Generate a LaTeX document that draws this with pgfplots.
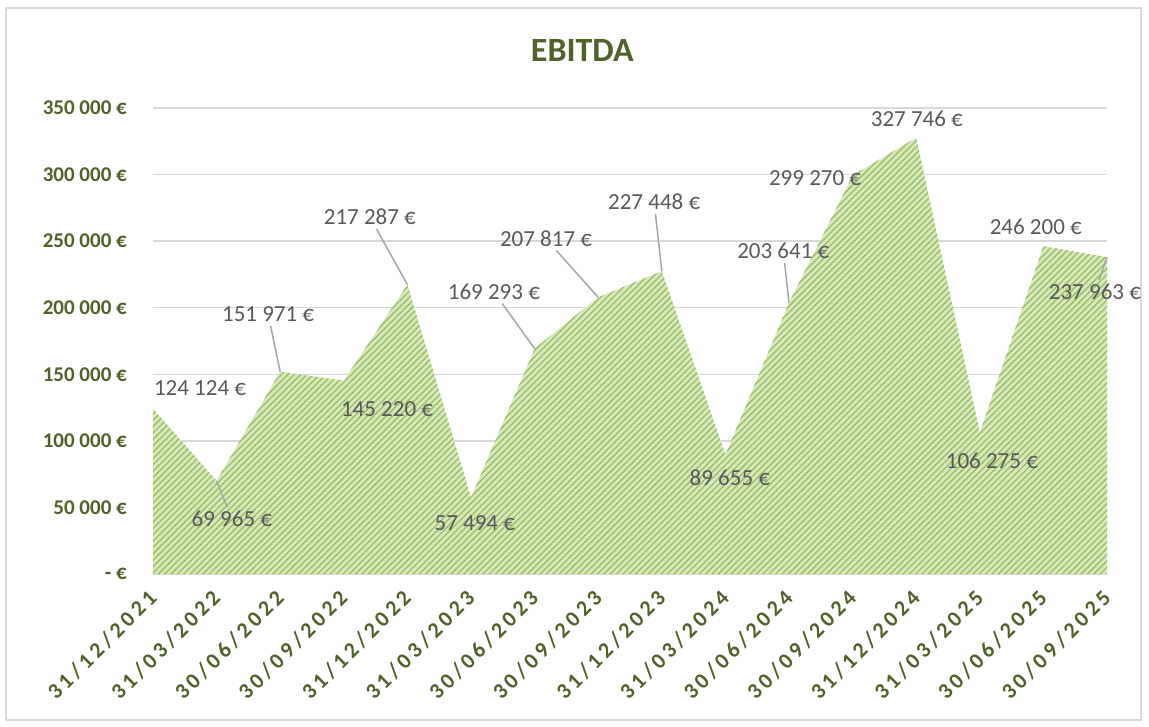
\documentclass[border=0pt]{standalone}
\usepackage{fontspec}
\setmainfont{Carlito}
\newfontfamily\xlabfont[LetterSpace=18]{Carlito}
\usepackage{pgfplots}
\pgfplotsset{compat=1.18}
\usetikzlibrary{patterns.meta}
\definecolor{dkgreen}{RGB}{79,98,40}
\definecolor{lblgray}{RGB}{89,89,89}
\definecolor{leadgray}{RGB}{166,166,166}
\definecolor{gridgray}{RGB}{217,217,217}
\definecolor{fillbase}{RGB}{216,232,190}
\definecolor{fillline}{RGB}{150,190,90}
\begin{document}
\begin{tikzpicture}[
  lbl/.style={font=\fontsize{23}{25}\selectfont, text=lblgray, inner sep=1pt},
  leader/.style={draw=leadgray, line width=1.5pt, shorten >=3pt},
]
\useasboundingbox (-153pt,-152pt) rectangle (996pt,574pt);
\draw[gridgray, line width=2pt] (-147pt,-146pt) rectangle (988pt,566pt);
\begin{axis}[
  at={(0,0)}, anchor=south west,
  scale only axis, width=954pt, height=466pt,
  xmin=0, xmax=15, ymin=0, ymax=350000,
  clip=false,
  scaled y ticks=false,
  axis x line*=bottom, axis y line*=left,
  x axis line style={draw=gridgray, line width=1pt},
  y axis line style={draw=none},
  major tick length=0pt,
  ymajorgrids, grid style={draw=gridgray, line width=1.5pt},
  ytick={0,50000,100000,150000,200000,250000,300000,350000},
  yticklabels={- €,50 000 €,100 000 €,150 000 €,200 000 €,250 000 €,300 000 €,350 000 €},
  yticklabel style={font=\fontsize{21}{24}\selectfont\bfseries, text=dkgreen, anchor=east, inner sep=0pt, xshift=-26pt},
  xtick={0,...,15},
  xticklabels={31/12/2021,31/03/2022,30/06/2022,30/09/2022,31/12/2022,31/03/2023,30/06/2023,30/09/2023,31/12/2023,31/03/2024,30/06/2024,30/09/2024,31/12/2024,31/03/2025,30/06/2025,30/09/2025},
  xticklabel style={font=\xlabfont\fontsize{22}{24}\selectfont\bfseries, text=dkgreen, rotate=45, anchor=east, inner sep=0pt},
  xticklabel shift=20pt,
  title={EBITDA},
  title style={font=\fontsize{34}{38}\selectfont\bfseries, text=dkgreen, at={(0.45,1)}, anchor=center, yshift=52pt},
]
\addplot[draw=none, fill=fillbase, postaction={pattern={Lines[angle=45, distance=4.5pt, line width=1.3pt]}, pattern color=fillline}] coordinates {
(0,124124) (1,69965) (2,151971) (3,145220) (4,217287) (5,57494) (6,169293) (7,207817)
(8,227448) (9,89655) (10,203641) (11,299270) (12,327746) (13,106275) (14,246200) (15,237963)
} \closedcycle;
\node[lbl] at (axis cs:0.74,139700) {124 124 €};
\node[lbl] (n1) at (axis cs:1.24,41300) {69 965 €};
\draw[leader] (axis cs:1,69965) -- (n1);
\node[lbl] (n2) at (axis cs:1.81,195300) {151 971 €};
\draw[leader] (axis cs:2,151971) -- (n2);
\node[lbl] at (axis cs:3.68,123900) {145 220 €};
\node[lbl] (n4) at (axis cs:3.41,268100) {217 287 €};
\draw[leader] (axis cs:4,217287) -- (n4);
\node[lbl] at (axis cs:5.06,38300) {57 494 €};
\node[lbl] (n6) at (axis cs:5.36,211800) {169 293 €};
\draw[leader] (axis cs:6,169293) -- (n6);
\node[lbl] (n7) at (axis cs:6.18,251600) {207 817 €};
\draw[leader] (axis cs:7,207817) -- (n7);
\node[lbl] (n8) at (axis cs:7.88,279400) {227 448 €};
\draw[leader] (axis cs:8,227448) -- (n8);
\node[lbl] at (axis cs:9.07,72100) {89 655 €};
\node[lbl] (n10) at (axis cs:9.91,242600) {203 641 €};
\draw[leader] (axis cs:10,203641) -- (n10);
\node[lbl] at (axis cs:10.41,297400) {299 270 €};
\node[lbl] at (axis cs:12.01,341700) {327 746 €};
\node[lbl] at (axis cs:13.19,84900) {106 275 €};
\node[lbl] at (axis cs:13.88,260600) {246 200 €};
\node[lbl] (n15) at (axis cs:14.81,211800) {237 963 €};
\draw[leader] (axis cs:15,237963) -- (n15);
\end{axis}
\end{tikzpicture}
\end{document}
